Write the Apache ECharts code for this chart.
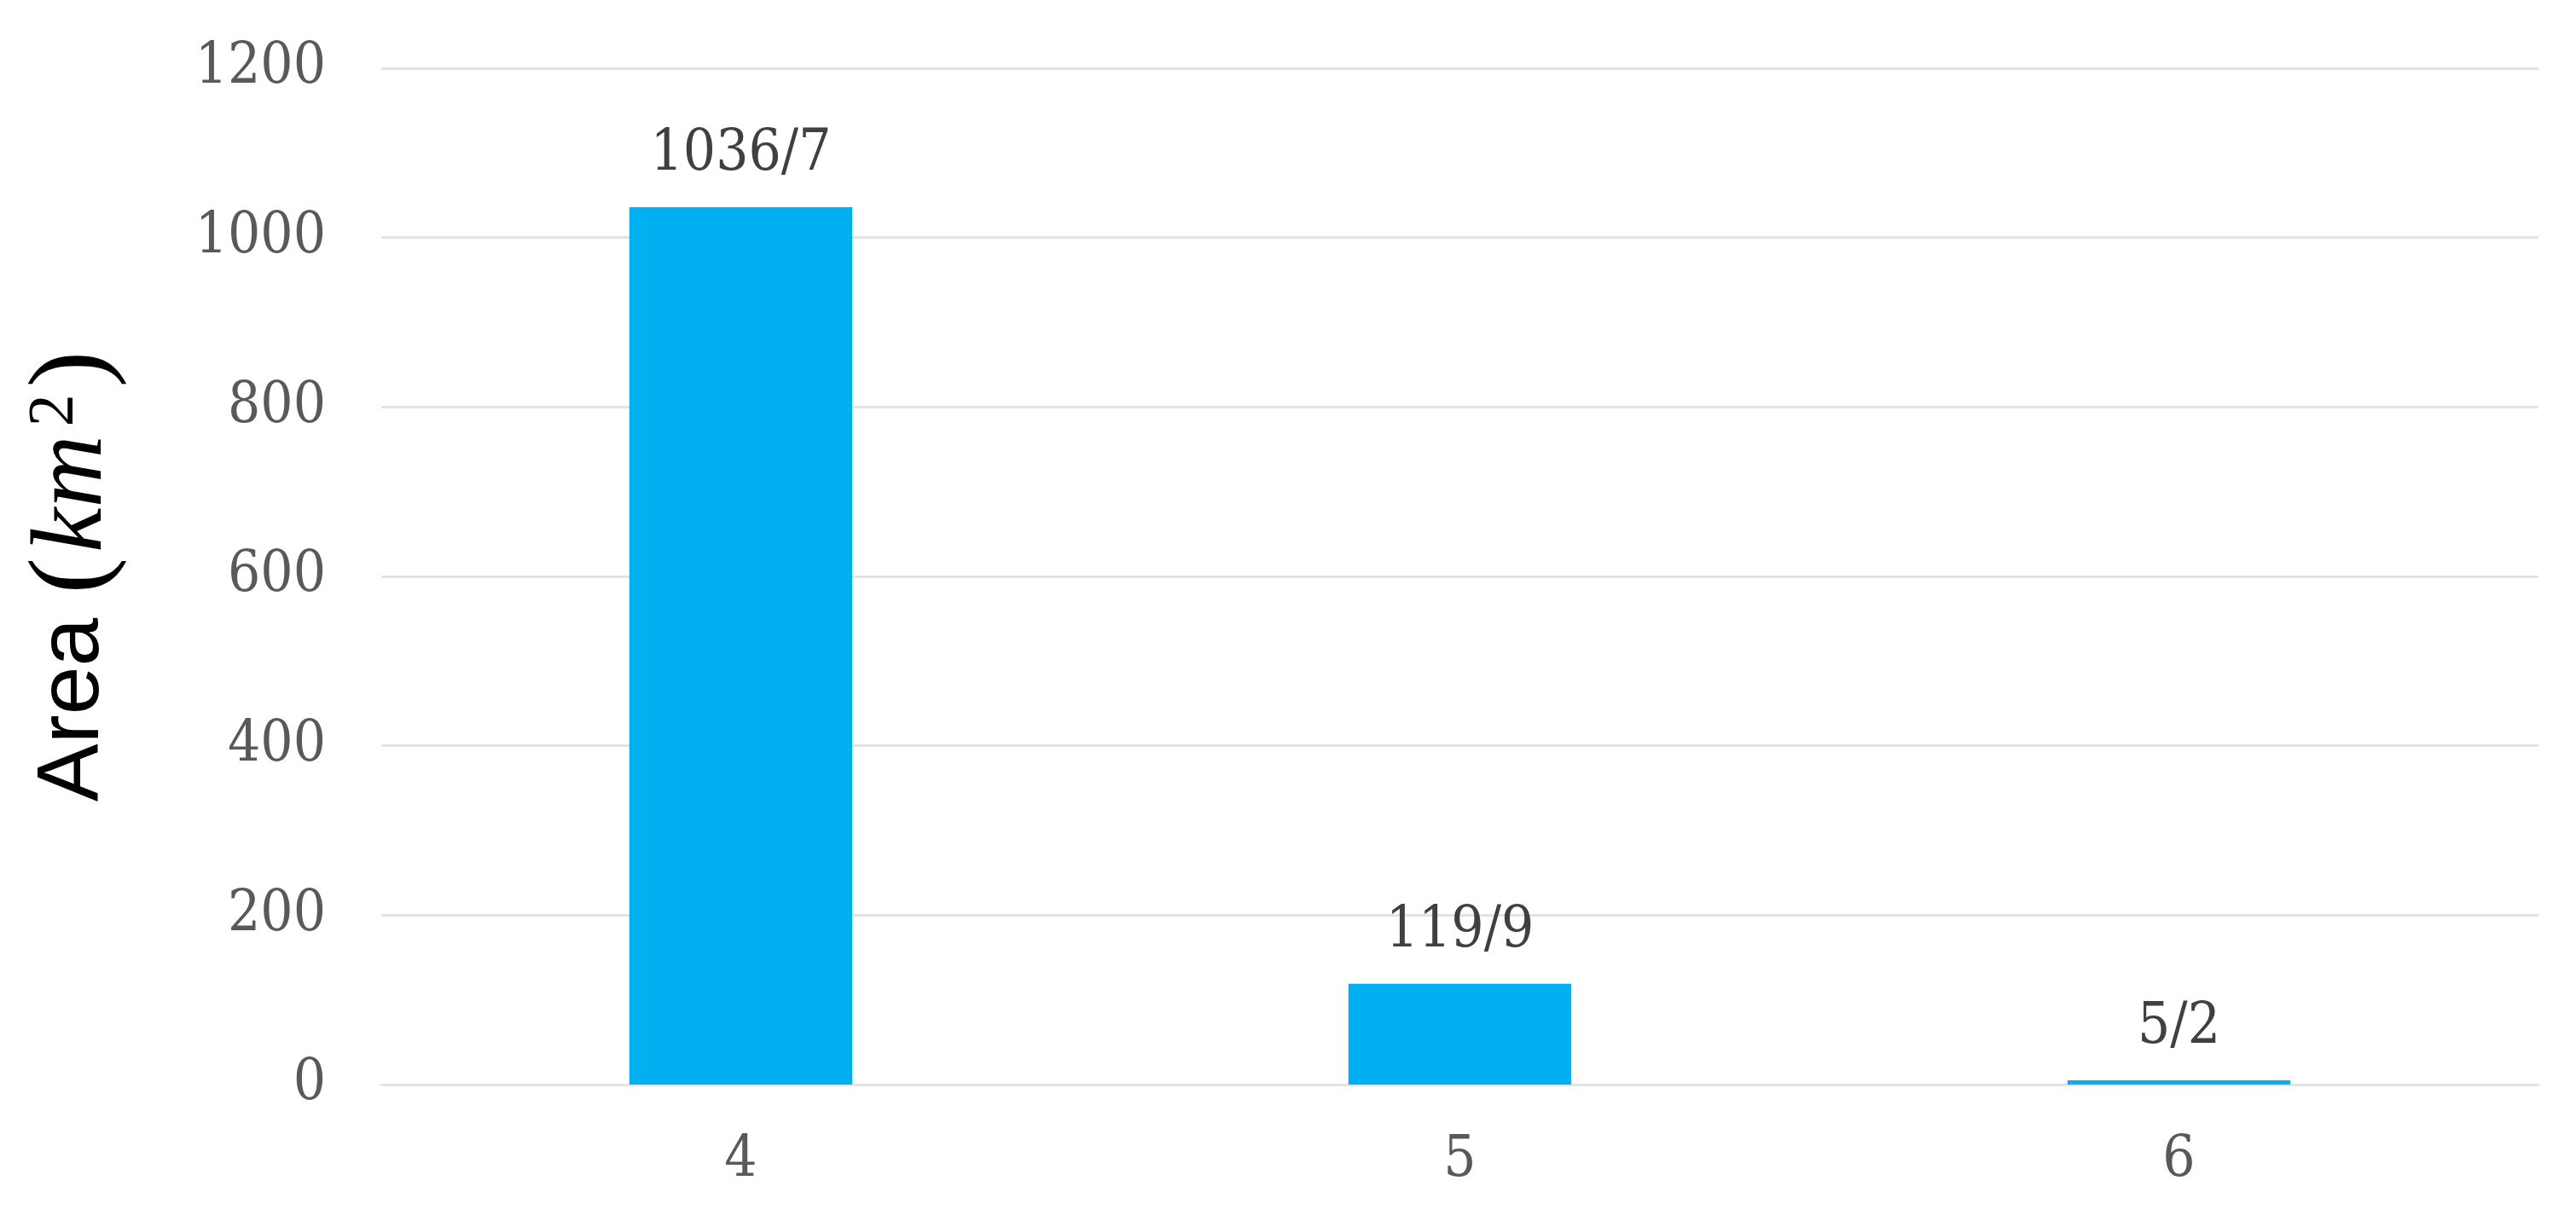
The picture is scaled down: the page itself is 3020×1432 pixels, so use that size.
<!DOCTYPE html>
<html>
<head>
<meta charset="utf-8">
<script src="https://cdn.jsdelivr.net/npm/echarts@6/dist/echarts.min.js"></script>
<style>
  html, body { margin: 0; padding: 0; background: #fff; }
  #main { width: 3020px; height: 1432px; }
</style>
</head>
<body>
<div id="main"></div>
<script>
const categories = ['4', '5', '6'];
const areaValues = [1036, 119, 5];
const barLabels = ['1036/7', '119/9', '5/2'];
const yTicks = [0, 200, 400, 600, 800, 1000, 1200];

const tickFont = '"DejaVu Serif Condensed", "DejaVu Serif", serif';

let chartDom = document.getElementById('main');
let myChart = echarts.init(chartDom);
let option;

option = {
    backgroundColor: '#ffffff',
    animation: false,
    grid: {
        left: 447,
        right: 44,
        top: 80,
        bottom: 160
    },
    xAxis: {
        type: 'category',
        data: categories,
        axisTick: { show: false },
        axisLine: { lineStyle: { color: '#e3e3e3', width: 3 } },
        axisLabel: {
            margin: 56,
            color: '#595959',
            fontSize: 67,
            fontFamily: tickFont
        }
    },
    yAxis: {
        type: 'value',
        min: yTicks[0],
        max: yTicks[yTicks.length - 1],
        interval: 200,
        name: '{a|Area }{p|(}{m|km}{s|2}{p|)}',
        nameLocation: 'middle',
        nameGap: 300,
        nameRotate: 90,
        nameTextStyle: {
            rich: {
                a: { fontSize: 102, fontFamily: '"Liberation Sans", Arial, sans-serif', color: '#000', lineHeight: 120 },
                p: { fontSize: 128, fontFamily: '"Liberation Serif", serif', color: '#000', lineHeight: 120 },
                m: { fontSize: 118, fontFamily: '"Liberation Serif", serif', fontStyle: 'italic', color: '#000', lineHeight: 120, padding: [0, 4, 0, 6] },
                s: { fontSize: 76, fontFamily: '"Liberation Serif", serif', color: '#000', verticalAlign: 'top', lineHeight: 70, padding: [0, 8, 0, 6] }
            }
        },
        axisLine: { show: false },
        axisTick: { show: false },
        splitLine: { lineStyle: { color: '#e3e3e3', width: 3 } },
        axisLabel: {
            margin: 65,
            color: '#595959',
            fontSize: 67,
            fontFamily: tickFont,
            formatter: (v) => String(v)
        }
    },
    series: [{
        type: 'bar',
        data: areaValues,
        barWidth: '31%',
        itemStyle: { color: '#00b0f0' },
        label: {
            show: true,
            position: 'top',
            distance: 28,
            color: '#404040',
            fontSize: 67,
            fontFamily: tickFont,
            formatter: (p) => barLabels[p.dataIndex]
        }
    }]
};

option && myChart.setOption(option);
</script>
</body>
</html>
